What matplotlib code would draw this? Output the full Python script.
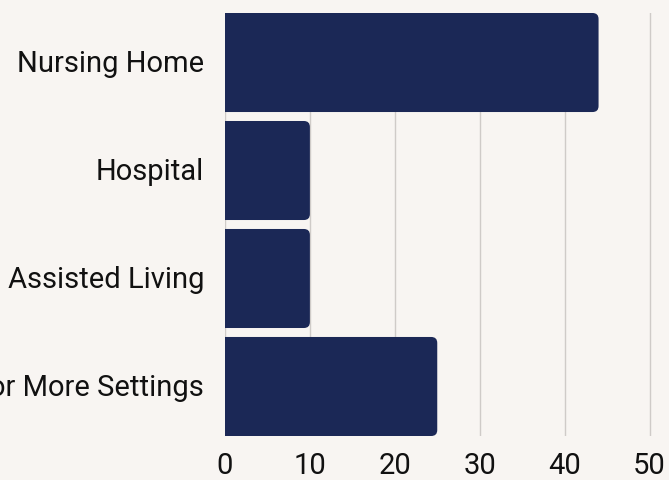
import matplotlib
matplotlib.use("Agg")
import matplotlib.pyplot as plt
import matplotlib.transforms as mtransforms
from matplotlib.patches import FancyBboxPatch

categories = ["Nursing Home", "Hospital", "Assisted Living", "Two or More Settings"]
values = [44, 10, 10, 25]
xticks = [0, 10, 20, 30, 40, 50]

BG = "#f8f5f2"
BAR = "#1b2856"

plt.rcParams['font.family'] = ['Roboto', 'DejaVu Sans']

fig = plt.figure(figsize=(6.69, 4.81), dpi=100, facecolor=BG)
W, H = 669, 481
left_px, top_px, bottom_px = 225, 14, 437
px_per_unit = 8.49
xmax = 55
ax = fig.add_axes([left_px / W, 1 - bottom_px / H, xmax * px_per_unit / W, (bottom_px - top_px) / H])
ax.set_facecolor(BG)

n = len(categories)
height = 0.917
ax.set_xlim(0, xmax)
ax.set_ylim(n - 1 + height / 2, -height / 2)

# rounded bars
ypx_per_unit = (bottom_px - top_px) / (n - 1 + height)
r_px = 6
rx = r_px / px_per_unit
aspect = (r_px / ypx_per_unit) / rx
for i, v in enumerate(values):
    p = FancyBboxPatch((-2, i - height / 2), v + 2, height,
                       boxstyle=f"round,pad=0,rounding_size={rx}",
                       mutation_aspect=aspect, facecolor=BAR, edgecolor="none", zorder=3)
    ax.add_patch(p)

ax.set_xticks(xticks)
ax.set_xticklabels([str(t) for t in xticks])
ax.set_yticks(range(n))
ax.set_yticklabels(categories)
ax.grid(axis='x', color="#cfcbc8", linewidth=1, zorder=0)
ax.grid(axis='y', visible=False)
for s in ax.spines.values():
    s.set_visible(False)
ax.tick_params(axis='both', length=0, labelsize=21, colors="#111111")
ax.tick_params(axis='y', pad=15)
ax.tick_params(axis='x', pad=11)
shift = mtransforms.ScaledTranslation(0, 2.5 / 100, fig.dpi_scale_trans)
for lbl in ax.get_yticklabels():
    lbl.set_transform(lbl.get_transform() + shift)

fig.savefig("out.png", dpi=100, facecolor=BG)
